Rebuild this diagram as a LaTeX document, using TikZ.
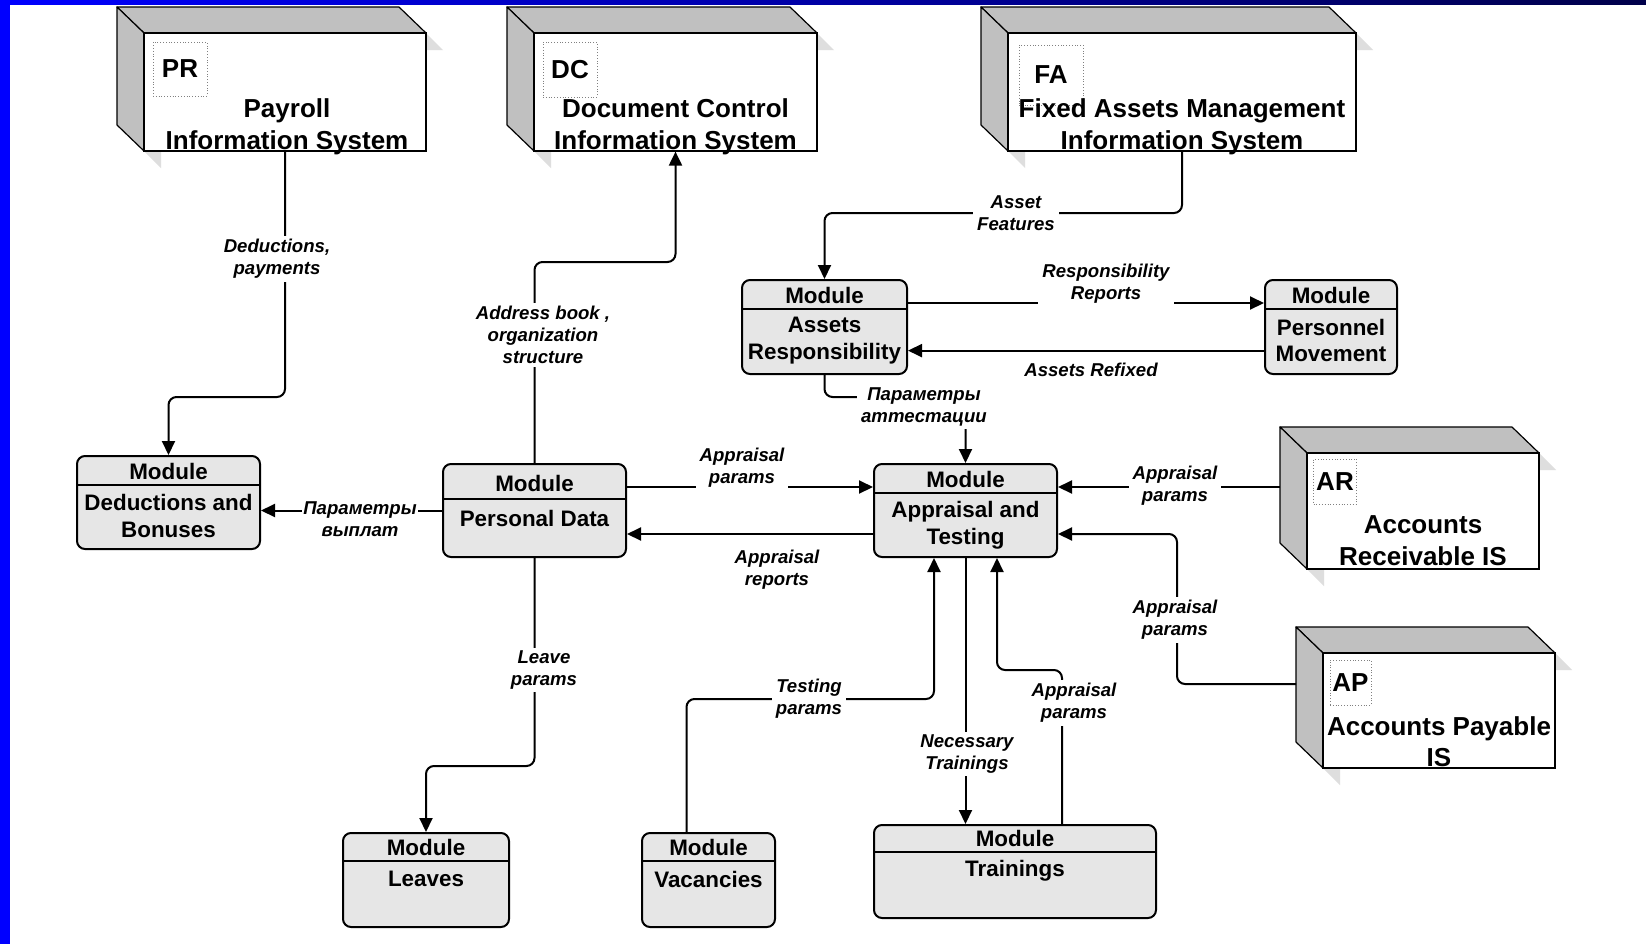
\documentclass[tikz,border=0pt]{standalone}
\usepackage{fontspec}
\setmainfont{Liberation Sans}
\usetikzlibrary{arrows.meta}
\definecolor{modfill}{HTML}{E6E6E6}
\definecolor{sidegray}{HTML}{C0C0C0}
\definecolor{shadowgray}{HTML}{DEDEDE}
\definecolor{navyend}{HTML}{00004A}
\definecolor{pureblue}{HTML}{0000FF}
\newcommand{\tdsides}[4]{%
  \fill[shadowgray] (#3,#2) -- ({#3+17},{#2+17}) -- (#3,{#2+17}) -- cycle;
  \fill[shadowgray] (#1,#4) -- ({#1+17},#4) -- ({#1+17},{#4+17}) -- cycle;
  \draw[facestyle] ({#1-27},{#2-26}) -- ({#3-27},{#2-26}) -- (#3,#2) -- (#1,#2) -- cycle;
  \draw[facestyle] ({#1-27},{#2-26}) -- (#1,#2) -- (#1,#4) -- ({#1-27},{#4-26}) -- cycle;
}
\begin{document}
\begin{tikzpicture}[x=0.5pt,y=-0.5pt,
  facestyle/.style={draw=black, line width=0.6pt, fill=sidegray, line join=round},
  frontbox/.style={draw=black, line width=0.6pt, fill=white, inner sep=0pt},
  codebox/.style={draw=gray, densely dotted, line width=0.4pt, inner sep=0pt,
    font=\fontsize{13}{15}\selectfont\bfseries},
  bigtxt/.style={font=\fontsize{13}{15.75}\selectfont\bfseries, align=center, inner sep=0pt},
  modbox/.style={draw=black, line width=1pt, rounded corners=4pt, fill=modfill, inner sep=0pt},
  modtxt/.style={font=\fontsize{11.2}{13.3}\selectfont\bfseries, align=center, inner sep=0pt},
  lbl/.style={font=\fontsize{9.3}{11}\selectfont\bfseries\itshape, align=center, fill=white,
    inner xsep=2pt, inner ysep=1.5pt},
  conn/.style={draw=black, line width=1pt, rounded corners=4pt},
  arr/.style={conn, -{Triangle[length=7pt, width=6.5pt]}},
  hline/.style={draw=black, line width=1pt}
]
\useasboundingbox (0,0) rectangle (1646,944);
\fill[white] (0,0) rectangle (1646,944);
\fill[pureblue] (0,0) rectangle (10,944);
\shade[left color=pureblue, right color=navyend] (0,0) rectangle (1646,4);

% ---------- 3D information systems ----------
\tdsides{144}{33}{426}{151}
\node[frontbox, minimum width=141pt, minimum height=59pt] (pr) at (285,92) {};
\node[codebox, minimum width=27pt, minimum height=27pt] (prc) at (180,69) {PR};
\node[bigtxt] (prt) at (287,127) {Payroll\\Information System};

\tdsides{534}{33}{817}{151}
\node[frontbox, minimum width=141.5pt, minimum height=59pt] (dc) at (675.5,92) {};
\node[codebox, minimum width=27pt, minimum height=27.5pt] (dcc) at (570,69.5) {DC};
\node[bigtxt] (dct) at (675.5,127) {Document Control\\Information System};

\tdsides{1008}{33}{1356}{151}
\node[frontbox, minimum width=174pt, minimum height=59pt] (fa) at (1182,92) {};
\node[codebox, minimum width=32pt, minimum height=30pt] (fac) at (1051,75) {FA};
\node[bigtxt] (fat) at (1182,127) {Fixed Assets Management\\Information System};

\tdsides{1307}{453}{1539}{569}
\node[frontbox, minimum width=116pt, minimum height=58pt] (arx) at (1423,511) {};
\node[codebox, minimum width=21.5pt, minimum height=22.5pt] (arc) at (1335,481.5) {AR};
\node[bigtxt] (art) at (1423,540.5) {Accounts\\Receivable IS};
\coordinate (arside) at (1280,487);

\tdsides{1323}{653}{1555}{768}
\node[frontbox, minimum width=116pt, minimum height=57.5pt] (apx) at (1439,710.5) {};
\node[codebox, minimum width=20.5pt, minimum height=22.5pt] (apc) at (1350.5,682.5) {AP};
\node[bigtxt] (apt2) at (1439,741.5) {Accounts Payable\\IS};
\coordinate (apside) at (1296,684);

% ---------- modules ----------
\node[modbox, minimum width=91.5pt, minimum height=46.5pt] (ded) at (168.5,502.5) {};
\draw[hline] ([yshift=-15pt]ded.north west) -- ([yshift=-15pt]ded.north east);
\node[modtxt] at (168.5,471) {Module};
\node[modtxt] at (168.5,516) {Deductions and\\Bonuses};

\node[modbox, minimum width=91.5pt, minimum height=46.5pt] (pd) at (534.5,510.5) {};
\draw[hline] ([yshift=-18pt]pd.north west) -- ([yshift=-18pt]pd.north east);
\node[modtxt] at (534.5,483) {Module};
\node[modtxt] at (534.5,518) {Personal Data};

\node[modbox, minimum width=82.5pt, minimum height=47pt] (asr) at (824.5,327) {};
\draw[hline] ([yshift=-15pt]asr.north west) -- ([yshift=-15pt]asr.north east);
\node[modtxt] at (824.5,295) {Module};
\node[modtxt] at (824.5,340.5) {Assets\\Responsibility};

\node[modbox, minimum width=66pt, minimum height=47pt] (pm) at (1331,327) {};
\draw[hline] ([yshift=-15pt]pm.north west) -- ([yshift=-15pt]pm.north east);
\node[modtxt] at (1331,295) {Module};
\node[modtxt] at (1331,340.5) {Personnel\\Movement};

\node[modbox, minimum width=91.5pt, minimum height=46.5pt] (apt) at (965.5,510.5) {};
\draw[hline] ([yshift=-15pt]apt.north west) -- ([yshift=-15pt]apt.north east);
\node[modtxt] at (965.5,479) {Module};
\node[modtxt] at (965.5,525) {Appraisal and\\Testing};

\node[modbox, minimum width=83pt, minimum height=47pt] (lv) at (426,880) {};
\draw[hline] ([yshift=-14.5pt]lv.north west) -- ([yshift=-14.5pt]lv.north east);
\node[modtxt] at (426,847) {Module};
\node[modtxt] at (426,879) {Leaves};

\node[modbox, minimum width=66.5pt, minimum height=47pt] (vc) at (708.5,880) {};
\draw[hline] ([yshift=-14.5pt]vc.north west) -- ([yshift=-14.5pt]vc.north east);
\node[modtxt] at (708.5,847) {Module};
\node[modtxt] at (708.5,879) {Vacancies};

\node[modbox, minimum width=141pt, minimum height=46.5pt] (tr) at (1015,871.5) {};
\draw[hline] ([yshift=-14pt]tr.north west) -- ([yshift=-14pt]tr.north east);
\node[modtxt] at (1015,838) {Module};
\node[modtxt] at (1015,871) {Trainings};

% ---------- connectors ----------
\draw[arr] (pr.south) |- (168.5,397) -- (ded.north);
\draw[arr] (pd.north) |- (675.5,262) -- (dc.south);
\draw[arr] (fa.south) |- (824.5,213) -- (asr.north);
\draw[arr] ([yshift=12pt]asr.east) -- ([yshift=12pt]pm.west);
\draw[arr] ([yshift=-11.8pt]pm.west) -- ([yshift=-11.8pt]asr.east);
\draw[arr] (asr.south) |- (965.5,397) -- (apt.north);
\draw[arr] ([yshift=11.75pt]pd.east) -- ([yshift=11.75pt]apt.west);
\draw[arr] ([yshift=-11.75pt]apt.west) -- ([yshift=-11.75pt]pd.east);
\draw[arr] (pd.west) -- (pd.west -| ded.east);
\draw[arr] (pd.south) |- (426,766) -- (lv.north);
\draw[arr] ([xshift=-11pt]vc.north) |- (934,699) -- ([xshift=-15.75pt]apt.south);
\draw[arr] (apt.south) -- (apt.south |- tr.north);
\draw[arr] ([xshift=23.5pt]tr.north) |- (997,670) -- ([xshift=15.75pt]apt.south);
\draw[arr] (arside) -- (arside -| apt.east);
\draw[arr] (apside) -| (1177,534) -- ([yshift=-11.75pt]apt.east);

% ---------- connector labels ----------
\node[lbl] at (277,259) {Deductions,\\payments};
\node[lbl] at (543,335) {Address book ,\\organization\\structure};
\node[lbl] at (1016,213) {Asset\\Features};
\node[lbl] at (1106,284) {Responsibility\\Reports};
\node[lbl] at (1091,370) {Assets Refixed};
\node[lbl] at (924,407) {Параметры\\аттестации};
\node[lbl] at (742,468) {Appraisal\\params};
\node[lbl] at (777,570) {Appraisal\\reports};
\node[lbl, inner xsep=0.5pt] at (360,519) {Параметры\\выплат};
\node[lbl] at (544,670) {Leave\\params};
\node[lbl] at (809,699) {Testing\\params};
\node[lbl] at (967,754) {Necessary\\Trainings};
\node[lbl] at (1074,703) {Appraisal\\params};
\node[lbl] at (1175,486) {Appraisal\\params};
\node[lbl] at (1175,620) {Appraisal\\params};
\end{tikzpicture}
\end{document}
